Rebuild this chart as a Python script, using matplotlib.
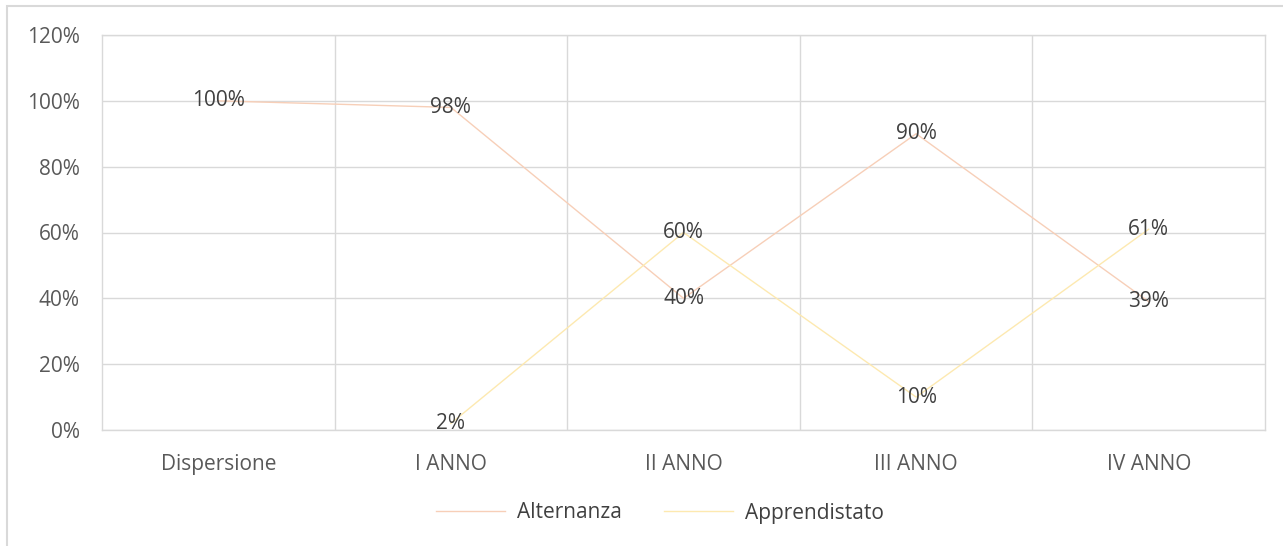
import matplotlib
matplotlib.use("Agg")
import matplotlib.pyplot as plt
from matplotlib.patches import Rectangle
import numpy as np

categories = ["Dispersione", "I ANNO", "II ANNO", "III ANNO", "IV ANNO"]
alternanza = [1.00, 0.98, 0.40, 0.90, 0.39]
apprendistato = [np.nan, 0.02, 0.60, 0.10, 0.61]
y_ticks = [0, 0.2, 0.4, 0.6, 0.8, 1.0, 1.2]
y_tick_labels = ["0%", "20%", "40%", "60%", "80%", "100%", "120%"]

plt.rcParams['font.family'] = ['Open Sans', 'DejaVu Sans']

W, H = 1283, 546
fig = plt.figure(figsize=(W/100, H/100), dpi=100)
ax = fig.add_axes([102/W, 1-430/H, (1265-102)/W, (430-35)/H])

grid_c = "#d9d9d9"
text_c = "#404040"
fs = 15
x = np.arange(len(categories))

ax.plot(x, alternanza, color="#f7cfb8", lw=1.0, label="Alternanza")
ax.plot(x, apprendistato, color="#fde9b0", lw=1.0, label="Apprendistato")

for xi, v in zip(x, alternanza):
    ax.text(xi, v, f"{v*100:.0f}%", ha="center", va="center", fontsize=fs, color=text_c)
for xi, v in zip(x, apprendistato):
    if not np.isnan(v):
        ax.text(xi, v, f"{v*100:.0f}%", ha="center", va="center", fontsize=fs, color=text_c)

ax.set_xlim(-0.5, len(categories)-0.5)
ax.set_ylim(0, 1.2)
ax.set_yticks(y_ticks)
ax.set_yticklabels(y_tick_labels)
ax.set_xticks(x)
ax.set_xticklabels(categories)
ax.set_xticks(np.arange(len(categories)-1)+0.5, minor=True)
ax.grid(True, axis="y", which="major", color=grid_c, lw=1)
ax.grid(True, axis="x", which="minor", color=grid_c, lw=1)
ax.grid(False, axis="x", which="major")
ax.tick_params(axis="both", which="both", length=0, labelsize=fs, colors="#595959")
ax.tick_params(axis="y", pad=16)
ax.tick_params(axis="x", pad=17)
for s in ax.spines.values():
    s.set_color(grid_c)
    s.set_linewidth(1)
ax.set_axisbelow(True)

leg = fig.legend(loc="center", bbox_to_anchor=(660/W, 1-513/H), ncol=2, frameon=False,
                 fontsize=fs, handlelength=3.3, columnspacing=2.0, handletextpad=0.6)
for t in leg.get_texts():
    t.set_color(text_c)

fig.patches.append(Rectangle((7/W, -0.1), 1.2, 1 - 6/H + 0.1, transform=fig.transFigure,
                             fill=False, edgecolor=grid_c, lw=1.5))

fig.savefig("out.png", dpi=100)
